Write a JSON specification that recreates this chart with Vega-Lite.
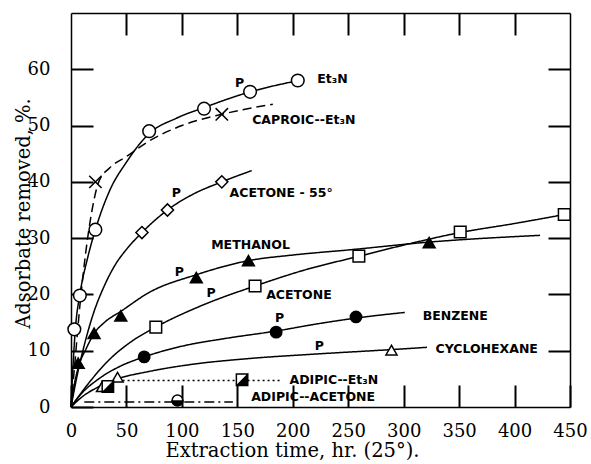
{
  "$schema": "https://vega.github.io/schema/vega-lite/v6.json",
  "width": 499,
  "height": 394,
  "autosize": {"type": "none"},
  "padding": {"left": 71, "top": 13, "right": 21, "bottom": 57},
  "config": {"view": {"stroke": null}},
  "resolve": {"axis": {"x": "independent", "y": "independent"}},
  "data": {"values": [
    {"kind": "curve", "series": "Et3N", "x": 0, "y": 0}, {"kind": "curve", "series": "Et3N", "x": 2, "y": 8}, {"kind": "curve", "series": "Et3N", "x": 4, "y": 14},
    {"kind": "curve", "series": "Et3N", "x": 8, "y": 20}, {"kind": "curve", "series": "Et3N", "x": 15, "y": 26.5}, {"kind": "curve", "series": "Et3N", "x": 22, "y": 31.5},
    {"kind": "curve", "series": "Et3N", "x": 35, "y": 38.5}, {"kind": "curve", "series": "Et3N", "x": 50, "y": 43.5}, {"kind": "curve", "series": "Et3N", "x": 70, "y": 48.5},
    {"kind": "curve", "series": "Et3N", "x": 95, "y": 51.3}, {"kind": "curve", "series": "Et3N", "x": 120, "y": 53.2}, {"kind": "curve", "series": "Et3N", "x": 160, "y": 55.9},
    {"kind": "curve", "series": "Et3N", "x": 205, "y": 58},
    {"kind": "curve", "series": "Caproic", "x": 0, "y": 0}, {"kind": "curve", "series": "Caproic", "x": 4, "y": 9}, {"kind": "curve", "series": "Caproic", "x": 8, "y": 18},
    {"kind": "curve", "series": "Caproic", "x": 13, "y": 27}, {"kind": "curve", "series": "Caproic", "x": 19, "y": 35}, {"kind": "curve", "series": "Caproic", "x": 25, "y": 40},
    {"kind": "curve", "series": "Caproic", "x": 35, "y": 42.5}, {"kind": "curve", "series": "Caproic", "x": 50, "y": 44.5}, {"kind": "curve", "series": "Caproic", "x": 70, "y": 47.2},
    {"kind": "curve", "series": "Caproic", "x": 100, "y": 50}, {"kind": "curve", "series": "Caproic", "x": 136, "y": 52}, {"kind": "curve", "series": "Caproic", "x": 182, "y": 53.8},
    {"kind": "curve", "series": "Acetone55", "x": 0, "y": 0}, {"kind": "curve", "series": "Acetone55", "x": 6, "y": 6}, {"kind": "curve", "series": "Acetone55", "x": 12, "y": 11},
    {"kind": "curve", "series": "Acetone55", "x": 20, "y": 16.5}, {"kind": "curve", "series": "Acetone55", "x": 30, "y": 21.5}, {"kind": "curve", "series": "Acetone55", "x": 40, "y": 25.3},
    {"kind": "curve", "series": "Acetone55", "x": 50, "y": 28}, {"kind": "curve", "series": "Acetone55", "x": 64, "y": 31}, {"kind": "curve", "series": "Acetone55", "x": 87, "y": 35},
    {"kind": "curve", "series": "Acetone55", "x": 110, "y": 37.8}, {"kind": "curve", "series": "Acetone55", "x": 136, "y": 40}, {"kind": "curve", "series": "Acetone55", "x": 163, "y": 42},
    {"kind": "curve", "series": "Methanol", "x": 0, "y": 0}, {"kind": "curve", "series": "Methanol", "x": 3, "y": 4}, {"kind": "curve", "series": "Methanol", "x": 7, "y": 7.3},
    {"kind": "curve", "series": "Methanol", "x": 14, "y": 10.5}, {"kind": "curve", "series": "Methanol", "x": 21, "y": 13.1}, {"kind": "curve", "series": "Methanol", "x": 30, "y": 15},
    {"kind": "curve", "series": "Methanol", "x": 45, "y": 17}, {"kind": "curve", "series": "Methanol", "x": 70, "y": 20.3}, {"kind": "curve", "series": "Methanol", "x": 113, "y": 23.5},
    {"kind": "curve", "series": "Methanol", "x": 160, "y": 26}, {"kind": "curve", "series": "Methanol", "x": 200, "y": 27}, {"kind": "curve", "series": "Methanol", "x": 250, "y": 27.9},
    {"kind": "curve", "series": "Methanol", "x": 323, "y": 29.3}, {"kind": "curve", "series": "Methanol", "x": 423, "y": 30.5},
    {"kind": "curve", "series": "Acetone", "x": 0, "y": 0}, {"kind": "curve", "series": "Acetone", "x": 15, "y": 4}, {"kind": "curve", "series": "Acetone", "x": 35, "y": 8.5},
    {"kind": "curve", "series": "Acetone", "x": 55, "y": 11.7}, {"kind": "curve", "series": "Acetone", "x": 76.5, "y": 14.2}, {"kind": "curve", "series": "Acetone", "x": 120, "y": 18.2},
    {"kind": "curve", "series": "Acetone", "x": 166, "y": 21.5}, {"kind": "curve", "series": "Acetone", "x": 210, "y": 24.3}, {"kind": "curve", "series": "Acetone", "x": 260, "y": 26.8},
    {"kind": "curve", "series": "Acetone", "x": 305, "y": 29}, {"kind": "curve", "series": "Acetone", "x": 351, "y": 31}, {"kind": "curve", "series": "Acetone", "x": 400, "y": 32.6},
    {"kind": "curve", "series": "Acetone", "x": 445, "y": 34.2},
    {"kind": "curve", "series": "Benzene", "x": 0, "y": 0}, {"kind": "curve", "series": "Benzene", "x": 10, "y": 2.5}, {"kind": "curve", "series": "Benzene", "x": 25, "y": 5},
    {"kind": "curve", "series": "Benzene", "x": 45, "y": 7.3}, {"kind": "curve", "series": "Benzene", "x": 66, "y": 8.9}, {"kind": "curve", "series": "Benzene", "x": 100, "y": 10.8},
    {"kind": "curve", "series": "Benzene", "x": 140, "y": 12.2}, {"kind": "curve", "series": "Benzene", "x": 185, "y": 13.5}, {"kind": "curve", "series": "Benzene", "x": 220, "y": 14.7},
    {"kind": "curve", "series": "Benzene", "x": 257, "y": 15.8}, {"kind": "curve", "series": "Benzene", "x": 301, "y": 16.8},
    {"kind": "curve", "series": "Cyclohexane", "x": 0, "y": 0}, {"kind": "curve", "series": "Cyclohexane", "x": 10, "y": 1.8}, {"kind": "curve", "series": "Cyclohexane", "x": 25, "y": 3.6},
    {"kind": "curve", "series": "Cyclohexane", "x": 42, "y": 5.0}, {"kind": "curve", "series": "Cyclohexane", "x": 70, "y": 6.3}, {"kind": "curve", "series": "Cyclohexane", "x": 110, "y": 7.6},
    {"kind": "curve", "series": "Cyclohexane", "x": 160, "y": 8.6}, {"kind": "curve", "series": "Cyclohexane", "x": 220, "y": 9.4}, {"kind": "curve", "series": "Cyclohexane", "x": 289, "y": 10.2},
    {"kind": "curve", "series": "Cyclohexane", "x": 321, "y": 10.6},
    {"kind": "curve", "series": "AdipicEt3N", "x": 42, "y": 4.7}, {"kind": "curve", "series": "AdipicEt3N", "x": 154, "y": 4.7}, {"kind": "curve", "series": "AdipicEt3N", "x": 190, "y": 4.7},
    {"kind": "curve", "series": "AdipicAcetone", "x": 12, "y": 0.9}, {"kind": "curve", "series": "AdipicAcetone", "x": 96, "y": 0.9}, {"kind": "curve", "series": "AdipicAcetone", "x": 146, "y": 0.9},
    {"kind": "point", "series": "Et3N", "x": 3, "y": 13.8}, {"kind": "point", "series": "Et3N", "x": 8, "y": 19.8}, {"kind": "point", "series": "Et3N", "x": 22, "y": 31.5},
    {"kind": "point", "series": "Et3N", "x": 70.5, "y": 49}, {"kind": "point", "series": "Et3N", "x": 120, "y": 53}, {"kind": "point", "series": "Et3N", "x": 161.5, "y": 56},
    {"kind": "point", "series": "Et3N", "x": 204.5, "y": 58},
    {"kind": "point", "series": "Caproic", "x": 22, "y": 40}, {"kind": "point", "series": "Caproic", "x": 136, "y": 52},
    {"kind": "point", "series": "Acetone55", "x": 64, "y": 31}, {"kind": "point", "series": "Acetone55", "x": 87, "y": 35}, {"kind": "point", "series": "Acetone55", "x": 136, "y": 40},
    {"kind": "point", "series": "Methanol", "x": 6.5, "y": 7.8}, {"kind": "point", "series": "Methanol", "x": 20.8, "y": 13.1}, {"kind": "point", "series": "Methanol", "x": 44.9, "y": 16.2},
    {"kind": "point", "series": "Methanol", "x": 113, "y": 23}, {"kind": "point", "series": "Methanol", "x": 160, "y": 26}, {"kind": "point", "series": "Methanol", "x": 323, "y": 29.2},
    {"kind": "point", "series": "Acetone", "x": 76.5, "y": 14.2}, {"kind": "point", "series": "Acetone", "x": 166, "y": 21.5}, {"kind": "point", "series": "Acetone", "x": 259.6, "y": 26.8},
    {"kind": "point", "series": "Acetone", "x": 351, "y": 31.1}, {"kind": "point", "series": "Acetone", "x": 444.8, "y": 34.2},
    {"kind": "point", "series": "Benzene", "x": 66, "y": 8.9}, {"kind": "point", "series": "Benzene", "x": 185, "y": 13.3}, {"kind": "point", "series": "Benzene", "x": 257, "y": 16},
    {"kind": "point", "series": "Cyclohexane", "x": 28, "y": 3.6}, {"kind": "point", "series": "Cyclohexane", "x": 42, "y": 5.3}, {"kind": "point", "series": "Cyclohexane", "x": 289, "y": 10.1},
    {"kind": "point", "series": "AdipicEt3N", "x": 33, "y": 3.7}, {"kind": "point", "series": "AdipicEt3N", "x": 154, "y": 4.9},
    {"kind": "point", "series": "AdipicAcetone", "x": 96, "y": 1.2},
    {"kind": "p", "x": 152, "y": 57.6, "label": "P"}, {"kind": "p", "x": 94.9, "y": 38.1, "label": "P"}, {"kind": "p", "x": 97.8, "y": 24.0, "label": "P"},
    {"kind": "p", "x": 126.4, "y": 20.2, "label": "P"}, {"kind": "p", "x": 188, "y": 15.9, "label": "P"}, {"kind": "p", "x": 224, "y": 10.9, "label": "P"},
    {"kind": "label", "x": 222, "y": 58.2, "label": "Et₃N"},
    {"kind": "label", "x": 163.4, "y": 51.0, "label": "CAPROIC--Et₃N"},
    {"kind": "label", "x": 143, "y": 38.1, "label": "ACETONE - 55°"},
    {"kind": "label", "x": 126.4, "y": 28.8, "label": "METHANOL"},
    {"kind": "label", "x": 176, "y": 19.9, "label": "ACETONE"},
    {"kind": "label", "x": 317.2, "y": 16.2, "label": "BENZENE"},
    {"kind": "label", "x": 328.7, "y": 10.25, "label": "CYCLOHEXANE"},
    {"kind": "label", "x": 197, "y": 4.8, "label": "ADIPIC--Et₃N"},
    {"kind": "label", "x": 162.5, "y": 1.7, "label": "ADIPIC--ACETONE"}
  ]},
  "layer": [
    {
      "transform": [{"filter": "datum.kind === 'curve'"}],
      "mark": {"type": "line", "color": "black", "strokeWidth": 1.5, "interpolate": "monotone"},
      "encoding": {
        "x": {"field": "x", "type": "quantitative", "scale": {"domain": [0, 450], "nice": false},
          "axis": {"orient": "bottom", "values": [0, 50, 100, 150, 200, 250, 300, 350, 400, 450], "grid": false,
            "domainColor": "black", "domainWidth": 1.5, "tickSize": -22, "tickColor": "#000", "tickWidth": 2,
            "labelPadding": 37, "labelFlush": false, "labelFont": "DejaVu Serif", "labelFontSize": 18, "labelColor": "black",
            "title": "Extraction time, hr. (25°).", "titleFont": "DejaVu Serif", "titleFontSize": 19.5, "titleFontWeight": "normal", "titleColor": "black",
            "titleX": 221, "titleY": 49, "titleAlign": "center", "titleBaseline": "alphabetic"}},
        "y": {"field": "y", "type": "quantitative", "scale": {"domain": [0, 70], "nice": false},
          "axis": {"orient": "left", "values": [0, 10, 20, 30, 40, 50, 60], "grid": false,
            "domainColor": "black", "domainWidth": 1.5, "tickSize": -22, "tickColor": "#000", "tickWidth": 2,
            "labelPadding": 43, "labelFlush": false, "labelFont": "DejaVu Serif", "labelFontSize": 18, "labelColor": "black",
            "title": "Adsorbate removed, %.", "titleFont": "DejaVu Serif", "titleFontSize": 19.5, "titleFontWeight": "normal", "titleColor": "black",
            "titleX": -42, "titleY": 200, "titleAngle": -90, "titleAlign": "center", "titleBaseline": "alphabetic"}},
        "detail": {"field": "series"},
        "strokeDash": {"field": "series", "type": "nominal", "legend": null,
          "scale": {"domain": ["Et3N", "Caproic", "Acetone55", "Methanol", "Acetone", "Benzene", "Cyclohexane", "AdipicEt3N", "AdipicAcetone"],
            "range": [[1, 0], [9, 5], [1, 0], [1, 0], [1, 0], [1, 0], [1, 0], [2, 3], [10, 4, 2, 4]]}}
      }
    },
    {
      "transform": [{"filter": "datum.kind === 'point'"}],
      "mark": {"type": "point", "filled": true, "stroke": "black", "strokeWidth": 1.5, "opacity": 1},
      "encoding": {
        "x": {"field": "x", "type": "quantitative", "scale": {"domain": [0, 450], "nice": false}, "axis": null},
        "y": {"field": "y", "type": "quantitative", "scale": {"domain": [0, 70], "nice": false}, "axis": null},
        "shape": {"field": "series", "type": "nominal", "legend": null,
          "scale": {"domain": ["Et3N", "Caproic", "Acetone55", "Methanol", "Acetone", "Benzene", "Cyclohexane", "AdipicEt3N", "AdipicAcetone"],
            "range": ["circle", "M-1,-1L1,1M-1,1L1,-1", "diamond", "triangle-up", "square", "circle", "triangle-up", "square", "circle"]}},
        "fill": {"field": "series", "type": "nominal", "legend": null,
          "scale": {"domain": ["Et3N", "Caproic", "Acetone55", "Methanol", "Acetone", "Benzene", "Cyclohexane", "AdipicEt3N", "AdipicAcetone"],
            "range": ["white", "white", "white", "black", "white", "black", "white", "white", "white"]}},
        "size": {"field": "series", "type": "nominal", "legend": null,
          "scale": {"domain": ["Et3N", "Caproic", "Acetone55", "Methanol", "Acetone", "Benzene", "Cyclohexane", "AdipicEt3N", "AdipicAcetone"],
            "range": [160, 110, 300, 200, 180, 150, 200, 180, 160]}}
      }
    },
    {
      "transform": [{"filter": "datum.kind === 'point' && datum.series === 'AdipicEt3N'"}],
      "mark": {"type": "point", "filled": true, "color": "black", "shape": "M1,-1L1,1L-1,1Z", "size": 180, "opacity": 1},
      "encoding": {
        "x": {"field": "x", "type": "quantitative", "scale": {"domain": [0, 450], "nice": false}, "axis": null},
        "y": {"field": "y", "type": "quantitative", "scale": {"domain": [0, 70], "nice": false}, "axis": null}
      }
    },
    {
      "transform": [{"filter": "datum.kind === 'point' && datum.series === 'AdipicAcetone'"}],
      "mark": {"type": "point", "filled": true, "color": "black", "shape": "M-1,0A1,1,0,0,0,1,0Z", "size": 160, "opacity": 1},
      "encoding": {
        "x": {"field": "x", "type": "quantitative", "scale": {"domain": [0, 450], "nice": false}, "axis": null},
        "y": {"field": "y", "type": "quantitative", "scale": {"domain": [0, 70], "nice": false}, "axis": null}
      }
    },
    {
      "transform": [{"filter": "datum.kind === 'p'"}],
      "mark": {"type": "text", "font": "DejaVu Sans", "fontWeight": "bold", "fontSize": 12.5, "align": "center", "baseline": "middle", "color": "black"},
      "encoding": {
        "x": {"field": "x", "type": "quantitative", "scale": {"domain": [0, 450], "nice": false},
          "axis": {"orient": "top", "values": [50, 100, 150, 200, 250, 300, 350, 400], "grid": false, "labels": false, "title": null,
            "domainColor": "black", "domainWidth": 1.5, "tickSize": -22, "tickColor": "#000", "tickWidth": 2}},
        "y": {"field": "y", "type": "quantitative", "scale": {"domain": [0, 70], "nice": false},
          "axis": {"orient": "right", "values": [10, 20, 30, 40, 50, 60], "grid": false, "labels": false, "title": null,
            "domainColor": "black", "domainWidth": 1.5, "tickSize": -22, "tickColor": "#000", "tickWidth": 2}},
        "text": {"field": "label"}
      }
    },
    {
      "transform": [{"filter": "datum.kind === 'label'"}],
      "mark": {"type": "text", "font": "DejaVu Sans", "fontWeight": "bold", "fontSize": 12.5, "align": "left", "baseline": "middle", "color": "black"},
      "encoding": {
        "x": {"field": "x", "type": "quantitative", "scale": {"domain": [0, 450], "nice": false}, "axis": null},
        "y": {"field": "y", "type": "quantitative", "scale": {"domain": [0, 70], "nice": false}, "axis": null},
        "text": {"field": "label"}
      }
    }
  ]
}
